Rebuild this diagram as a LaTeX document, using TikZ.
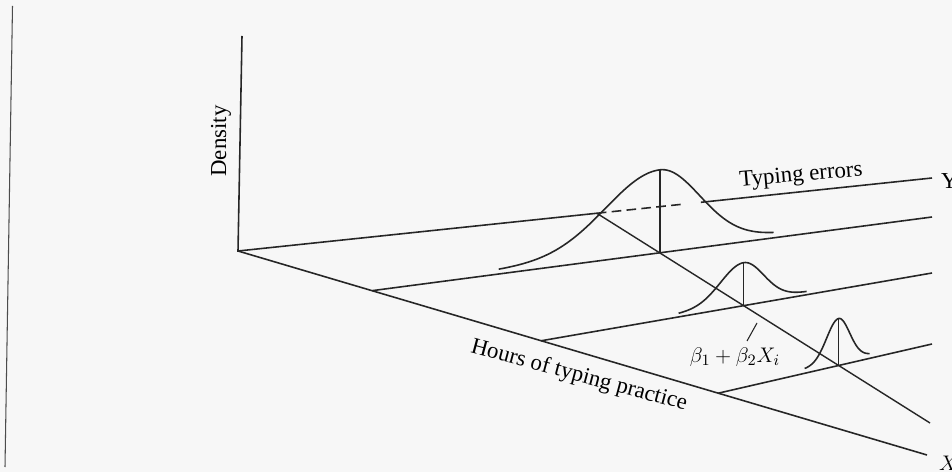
\documentclass[tikz,border=0pt]{standalone}
\usepackage{fontspec}
\setmainfont{Liberation Serif}
\usetikzlibrary{calc}
\tikzset{
  axis/.style={line width=0.9pt, black!85},
  bell/.style={line width=0.9pt, black!85},
  lbl/.style={font=\fontsize{13}{15}\selectfont, inner sep=1pt},
  declare function={gauss(\t,\s)=exp(-0.5*(\t/\s)*(\t/\s));}
}
\begin{document}
\begin{tikzpicture}[x=0.02cm, y=-0.02cm]
  \fill[black!3] (0,0) rectangle (952,472);
  \useasboundingbox (0,0) rectangle (952,472);
  % page edge of the scan
  \draw[black!70, line width=0.6pt] (12.5,6) -- (5,467);

  % axes
  \coordinate (O) at (238,251);
  \coordinate (Dtop) at (242,36);
  \coordinate (Yend) at (932,178);
  \coordinate (Xend) at (927,455);
  \coordinate (R0) at ($(O)!0.517!(Yend)$);
  \coordinate (Yc) at ($(O)!0.667!(Yend)$);
  \draw[axis] (Dtop) -- (O) -- (R0);
  \draw[axis, dash pattern=on 5.5pt off 3pt] (R0) -- ($(O)!0.645!(Yend)$);
  \draw[axis] (Yc) -- (Yend);
  \draw[axis] (O) -- (Xend);

  % lines at fixed X
  \coordinate (A1) at ($(O)!0.1945!(Xend)$);
  \coordinate (A2) at ($(O)!0.44!(Xend)$);
  \coordinate (A3) at ($(O)!0.697!(Xend)$);
  \coordinate (B1) at (932,217);
  \coordinate (B2) at (932,273);
  \coordinate (B3) at (932,344);
  \draw[axis] (A1) -- (B1);
  \draw[axis] (A2) -- (B2);
  \draw[axis] (A3) -- (B3);

  % regression line
  \coordinate (Rend) at (930,423);
  \draw[axis, line width=0.8pt] (R0) -- (Rend);
  \coordinate (C1) at (intersection of R0--Rend and A1--B1);
  \coordinate (C2) at (intersection of R0--Rend and A2--B2);
  \coordinate (C3) at (intersection of R0--Rend and A3--B3);

  % densities
  \begin{scope}[shift={(C1)}]
    \draw[bell] plot[domain=-161:0, samples=60, smooth] (\x, {-0.132*\x - 4 - 79*gauss(\x,54)})
      -- plot[domain=0:114, samples=45, smooth] (\x, {-0.132*\x - 4 - 79*gauss(\x,40)});
    \draw[axis] (0,0) -- (0,-83);
  \end{scope}
  \begin{scope}[shift={(C2)}]
    \draw[bell] plot[domain=-65:0, samples=40, smooth] (\x, {-0.174*\x - 3 - 40*gauss(\x,23)})
      -- plot[domain=0:63, samples=40, smooth] (\x, {-0.174*\x - 3 - 40*gauss(\x,20)});
    \draw[axis] (0,0) -- (0,-43);
  \end{scope}
  \begin{scope}[shift={(C3)}]
    \draw[bell] plot[domain=-34:0, samples=30, smooth] (\x, {-0.229*\x - 4 - 43*gauss(\x,12)})
      -- plot[domain=0:31, samples=30, smooth] (\x, {-0.229*\x - 4 - 43*gauss(\x,11)});
    \draw[axis] (0,0) -- (0,-47);
  \end{scope}

  % labels
  \node[lbl, rotate=90] (dens) at (221,141) {Density};
  \node[lbl, rotate=5] (yname) at (801,176) {Typing errors};
  \node[lbl, anchor=west] (ylab) at (939,181) {Y};
  \node[lbl, anchor=west] (xlab) at (937,463) {$X$};
  \node[lbl, rotate=-15] (hours) at (579,376) {Hours of typing practice};
  \node[lbl] (mean) at (735,357) {$\beta_1 + \beta_2 X_i$};
  \coordinate (tkA) at (747,341);
  \coordinate (tkB) at (757,323);
  \draw[black!85, line width=0.6pt] (tkA) -- (tkB);
\end{tikzpicture}
\end{document}
